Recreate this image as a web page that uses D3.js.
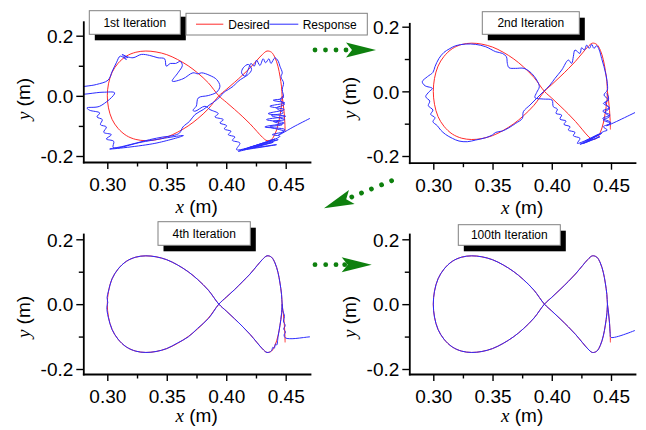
<!DOCTYPE html>
<html><head><meta charset="utf-8">
<script src="https://cdn.jsdelivr.net/npm/d3@7"></script>
<style>body{margin:0;background:#fff}svg{display:block}</style>
</head><body>
<svg id="c" width="646" height="430"></svg>
<script>
// ---------------- data ----------------
const xTicks = [0.30, 0.35, 0.40, 0.45];
const xTickLabels = ["0.30", "0.35", "0.40", "0.45"];
const xMinorTicks = [0.325, 0.375, 0.425];
const yTicks = [0.2, 0.0, -0.2];
const yTickLabels = ["0.2", "0.0", "-0.2"];
const yMinorTicks = [0.1, -0.1];
const panelTitles = ["1st Iteration", "2nd Iteration", "4th Iteration", "100th Iteration"];
const legendLabels = ["Desired", "Response"];

// desired figure-eight trajectory [x (m), y (m)]
const desiredPath = [
[0.4495,-0.118],[0.4493,-0.090],[0.4488,-0.060],[0.4480,-0.030],[0.4470,0.000],
[0.4465,0.030],[0.4452,0.065],[0.4435,0.098],[0.4410,0.127],[0.4380,0.145],[0.4343,0.149],
[0.4305,0.138],[0.4260,0.119],[0.4200,0.093],[0.4140,0.070],[0.4070,0.045],[0.4000,0.021],[0.3938,0.000],
[0.3850,-0.043],[0.3760,-0.076],[0.3680,-0.100],[0.3590,-0.121],[0.3500,-0.137],[0.3410,-0.146],[0.3324,-0.149],
[0.3240,-0.145],[0.3160,-0.132],[0.3090,-0.108],[0.3040,-0.078],[0.3010,-0.040],[0.3000,0.000],
[0.3010,0.040],[0.3040,0.078],[0.3090,0.108],[0.3160,0.132],[0.3240,0.145],[0.3324,0.149],
[0.3410,0.146],[0.3500,0.137],[0.3590,0.121],[0.3680,0.100],[0.3760,0.076],[0.3850,0.043],[0.3938,0.000],
[0.4000,-0.021],[0.4070,-0.045],[0.4140,-0.070],[0.4200,-0.093],[0.4260,-0.119],[0.4305,-0.138],[0.4343,-0.149],
[0.4380,-0.145],[0.4410,-0.127],[0.4435,-0.098],[0.4452,-0.065],[0.4465,-0.030],[0.4470,0.000]
];

// response, 1st iteration
const response1 = [
[0.4717,-0.0723],[0.4580,-0.1000],[0.4437,-0.1310],[0.4493,-0.1123],[0.4325,-0.1034],[0.4488,-0.0901],
[0.4339,-0.0790],[0.4499,-0.0679],[0.4353,-0.0590],[0.4488,-0.0457],[0.4367,-0.0346],[0.4493,-0.0234],
[0.4395,-0.0146],[0.4479,-0.0068],[0.4471,0.0210],[0.4482,0.0432],[0.4460,0.0632],[0.4471,0.0766],
[0.4451,0.0988],[0.4437,0.1154],[0.4409,0.1266],[0.4376,0.1077],[0.4359,0.1232],[0.4331,0.1099],
[0.4311,0.1232],[0.4283,0.1010],[0.4255,0.1188],[0.4236,0.0988],[0.4208,0.1077],[0.4185,0.0877],
[0.4157,0.0655],[0.4129,0.0766],[0.4143,0.0932],[0.4185,0.1044],[0.4213,0.0877],[0.4185,0.0710],
[0.4143,0.0599],[0.4101,0.0488],[0.4059,0.0321],[0.4017,0.0210],[0.3975,0.0099],[0.3947,-0.0034],
[0.3905,-0.0178],[0.3863,-0.0290],[0.3807,-0.0456],[0.3737,-0.0623],[0.3692,-0.0846],[0.3636,-0.1034],
[0.3608,-0.1234],[0.3552,-0.1323],[0.3468,-0.1368],[0.3356,-0.1457],[0.3244,-0.1568],[0.3132,-0.1679],
[0.3020,-0.1768],[0.3400,-0.1580],[0.3640,-0.1320],[0.3300,-0.1530],[0.3050,-0.1720],
[0.3054,-0.1512],[0.2992,-0.1434],[0.3034,-0.1290],[0.2970,-0.1212],[0.2992,-0.1034],[0.2942,-0.0957],
[0.2958,-0.0790],[0.2913,-0.0701],[0.2936,-0.0568],[0.2852,-0.0479],[0.2829,-0.0401],[0.2936,-0.0346],
[0.3062,0.0099],[0.2964,0.0121],[0.2740,0.0077],[0.2740,0.0232],[0.2908,0.0377],[0.3006,0.0521],
[0.3042,0.0821],[0.3076,0.1099],[0.3109,0.1321],[0.3160,0.1210],[0.3126,0.1377],[0.3174,0.1266],
[0.3146,0.1321],[0.3216,0.1266],[0.3286,0.1377],[0.3356,0.1344],[0.3426,0.1266],[0.3482,0.1232],
[0.3496,0.0988],[0.3530,0.1077],[0.3574,0.1077],[0.3614,0.1144],[0.3631,0.1010],[0.3594,0.0766],
[0.3546,0.0488],[0.3636,0.0566],[0.3720,0.0766],[0.3762,0.0732],[0.3793,0.0766],[0.3863,0.0677],
[0.3919,0.0544],[0.3947,0.0321],[0.3919,0.0121],[0.3849,0.0010],[0.3765,-0.0068],[0.3748,-0.0346],
[0.3720,-0.0479],[0.3737,-0.0512],[0.3821,-0.0346],[0.3863,-0.0456],[0.3933,-0.0590],[0.3905,-0.0701],
[0.3975,-0.0790],[0.3947,-0.0901],[0.4003,-0.0990],[0.3984,-0.1101],[0.4040,-0.1179],[0.4017,-0.1290],
[0.4073,-0.1368],[0.4051,-0.1479],[0.4115,-0.1568],[0.4087,-0.1790],[0.4409,-0.1434],[0.4101,-0.1846],
[0.4395,-0.1546],[0.4143,-0.1790],[0.4423,-0.1623],[0.4185,-0.1734],[0.4437,-0.1457],[0.4241,-0.1701],
[0.4451,-0.1345],[0.4387,-0.1290],[0.4488,-0.1179],[0.4367,-0.1034],[0.4471,-0.0957],[0.4395,-0.0846],
[0.4493,-0.0790],[0.4381,-0.0657],[0.4479,-0.0568],[0.4423,-0.0401],[0.4488,-0.0290],[0.4451,-0.0123],
[0.4479,-0.0012]
];

// response, 2nd iteration
const response2 = [
[0.4717,-0.0630],[0.4463,-0.1063],[0.4497,-0.0960],[0.4430,-0.0836],[0.4492,-0.0733],[0.4430,-0.0609],
[0.4486,-0.0506],[0.4436,-0.0372],[0.4478,-0.0269],[0.4441,-0.0114],[0.4469,0.0040],[0.4469,0.0247],
[0.4458,0.0504],[0.4441,0.0762],[0.4421,0.1020],[0.4401,0.1278],[0.4379,0.1412],[0.4356,0.1329],
[0.4337,0.1453],[0.4317,0.1329],[0.4295,0.1432],[0.4275,0.1278],[0.4252,0.1350],[0.4238,0.1174],
[0.4196,0.1278],[0.4182,0.1071],[0.4168,0.0865],[0.4140,0.0968],[0.4084,0.0659],[0.4027,0.0401],
[0.3985,0.0195],[0.3929,-0.0011],[0.3872,-0.0217],[0.3816,-0.0424],[0.3760,-0.0630],[0.3752,-0.0836],
[0.3695,-0.0991],[0.3639,-0.1125],[0.3583,-0.1228],[0.3527,-0.1269],[0.3498,-0.1351],[0.3442,-0.1434],
[0.3358,-0.1506],[0.3287,-0.1558],[0.3217,-0.1537],[0.3161,-0.1454],[0.3103,-0.1331],[0.3062,-0.1197],
[0.3034,-0.1063],[0.2997,-0.0939],[0.3014,-0.0815],[0.2978,-0.0712],[0.2997,-0.0578],[0.2958,-0.0444],
[0.2970,-0.0300],[0.2936,-0.0166],[0.2965,-0.0011],[0.2992,0.0092],[0.2930,0.0174],[0.2907,0.0298],
[0.2950,0.0453],[0.2997,0.0587],[0.3014,0.0762],[0.3048,0.1020],[0.3090,0.1205],[0.3133,0.1308],
[0.3189,0.1412],[0.3273,0.1463],[0.3358,0.1453],[0.3442,0.1381],[0.3527,0.1226],[0.3583,0.1174],
[0.3617,0.1071],[0.3625,0.0865],[0.3639,0.0731],[0.3695,0.0711],[0.3766,0.0711],[0.3830,0.0556],
[0.3873,0.0350],[0.3895,0.0143],[0.3873,-0.0032],[0.3858,-0.0197],[0.3929,-0.0238],[0.4002,-0.0269],
[0.4013,-0.0475],[0.4047,-0.0548],[0.4036,-0.0681],[0.4083,-0.0733],[0.4069,-0.0857],[0.4120,-0.0919],
[0.4103,-0.1022],[0.4154,-0.1094],[0.4140,-0.1197],[0.4196,-0.1269],[0.4182,-0.1372],[0.4238,-0.1454],
[0.4216,-0.1609],[0.4393,-0.1331],[0.4238,-0.1640],[0.4407,-0.1403],[0.4266,-0.1609],[0.4421,-0.1300],
[0.4295,-0.1558],[0.4435,-0.1248],[0.4469,-0.1197],[0.4435,-0.1094],[0.4497,-0.0991],[0.4435,-0.0888],
[0.4486,-0.0784],[0.4449,-0.0650],[0.4486,-0.0527],[0.4452,-0.0372],[0.4480,-0.0217],[0.4464,-0.0063]
];

// response, 4th iteration
const response4 = [
[0.4730,-0.0995],[0.4650,-0.1030],[0.4580,-0.1060],[0.4530,-0.1065],[0.4497,-0.1040],[0.4486,-0.0950],
[0.4498,-0.0860],[0.4483,-0.0760],[0.4496,-0.0660],[0.4481,-0.0520],[0.4490,-0.0380],[0.4476,-0.0200],
[0.4470,0.0000],[0.4465,0.030],[0.4452,0.065],[0.4435,0.098],[0.4410,0.127],[0.4380,0.145],[0.4343,0.149],
[0.4305,0.138],[0.4262,0.120],[0.4198,0.092],[0.4141,0.071],[0.4068,0.044],[0.4001,0.022],[0.3938,0.000],
[0.3851,-0.044],[0.3758,-0.075],[0.3681,-0.101],[0.3589,-0.120],[0.3500,-0.137],[0.3410,-0.146],[0.3324,-0.149],
[0.3240,-0.145],[0.3160,-0.132],[0.3090,-0.108],[0.3040,-0.078],[0.3008,-0.040],[0.2996,-0.010],[0.3004,0.005],
[0.2998,0.020],[0.3010,0.040],[0.3040,0.078],[0.3090,0.108],[0.3160,0.132],[0.3240,0.145],[0.3324,0.149],
[0.3410,0.146],[0.3500,0.137],[0.3590,0.121],[0.3680,0.100],[0.3760,0.076],[0.3850,0.043],[0.3938,0.000],
[0.4000,-0.021],[0.4070,-0.045],[0.4140,-0.070],[0.4200,-0.093],[0.4260,-0.119],[0.4305,-0.138],[0.4343,-0.149],
[0.4380,-0.144],[0.4392,-0.133],[0.4404,-0.136],[0.4414,-0.123],[0.4424,-0.126],[0.4436,-0.100],[0.4452,-0.065],
[0.4465,-0.030],[0.4470,0.000]
];

// response, 100th iteration: approach segment then tracks the desired path
const response100Approach = [[0.4730,-0.0770],[0.4500,-0.1025]];
const response100 = response100Approach.concat(desiredPath.slice(1));

// ---------------- drawing ----------------
const RED = "#ff2a2a", BLUE = "#2b2bff", GREEN = "#0e800e";
const SANS = "'Liberation Sans', Arial, Helvetica, sans-serif";
const SERIF = "'Liberation Serif', 'Times New Roman', serif";
const svg = d3.select("#c");

const panels = [
  {resp: response1,   x030:107.3, x045:285.7, x0:83.3,  x1:310, y02:35.7,  ym02:156, yTop:21.7,  yBot:162,   yTitleY:99,  xTitleOff:51, box:[89.3,10.7,91,23.6]},
  {resp: response2,   x030:433.3, x045:611,   x0:409.3, x1:635, y02:26.7,  ym02:156, yTop:23.3,  yBot:162.7, yTitleY:98,  xTitleOff:51, box:[482.3,11.7,97,22.6]},
  {resp: response4,   x030:107.3, x045:285.7, x0:83.3,  x1:310, y02:239.3, ym02:369, yTop:234,   yBot:374,   yTitleY:317, xTitleOff:48, box:[158,221.7,92.3,23.6]},
  {resp: response100, x030:433.3, x045:611,   x0:409.3, x1:635, y02:239.3, ym02:369, yTop:234,   yBot:374,   yTitleY:317, xTitleOff:48, box:[458.3,224.7,102,20.6]}
];

panels.forEach((p, i) => {
  const x = d3.scaleLinear().domain([0.30, 0.45]).range([p.x030, p.x045]);
  x.domain([x.invert(p.x0), x.invert(p.x1)]).range([p.x0, p.x1]);
  const y = d3.scaleLinear().domain([-0.2, 0.2]).range([p.ym02, p.y02]);
  y.domain([y.invert(p.yBot), y.invert(p.yTop)]).range([p.yBot, p.yTop]);

  const g = svg.append("g");
  const clipId = "clip" + i;
  svg.append("clipPath").attr("id", clipId).append("rect")
    .attr("x", p.x0).attr("y", p.yTop).attr("width", p.x1 - p.x0).attr("height", p.yBot - p.yTop);

  const line = d3.line().x(d => x(d[0])).y(d => y(d[1])).curve(d3.curveCatmullRom.alpha(0.5));
  const plot = g.append("g").attr("clip-path", `url(#${clipId})`);
  plot.append("path").attr("d", line(desiredPath)).attr("fill", "none").attr("stroke", RED).attr("stroke-width", 1);
  plot.append("path").attr("d", line(p.resp)).attr("fill", "none").attr("stroke", BLUE).attr("stroke-width", 1);

  // minor ticks
  g.append("g").attr("transform", `translate(0,${p.yBot})`)
    .call(d3.axisBottom(x).tickValues(xMinorTicks).tickSize(4.5).tickFormat(""))
    .call(a => a.select(".domain").remove());
  g.append("g").attr("transform", `translate(${p.x0},0)`)
    .call(d3.axisLeft(y).tickValues(yMinorTicks).tickSize(4.5).tickFormat(""))
    .call(a => a.select(".domain").remove());

  // major axes
  const xa = g.append("g").attr("transform", `translate(0,${p.yBot})`)
    .call(d3.axisBottom(x).tickValues(xTicks).tickFormat((d, j) => xTickLabels[j]).tickSize(7).tickSizeOuter(0));
  xa.selectAll("text").attr("y", 29).attr("dy", "0").attr("font-size", 19).attr("font-family", SANS).attr("fill", "#000");
  const ya = g.append("g").attr("transform", `translate(${p.x0},0)`)
    .call(d3.axisLeft(y).tickValues(yTicks).tickFormat((d, j) => yTickLabels[j]).tickSize(7).tickSizeOuter(0));
  ya.selectAll("text").attr("x", -10).attr("dy", "0.36em").attr("font-size", 19).attr("font-family", SANS).attr("fill", "#000");
  g.selectAll(".tick line").attr("stroke", "#000").attr("stroke-width", 1.4);
  g.selectAll(".domain").attr("stroke", "#000").attr("stroke-width", 1.8).attr("stroke-linecap", "square");

  // axis titles
  const xt = g.append("text").attr("x", (p.x0 + p.x1) / 2).attr("y", p.yBot + p.xTitleOff)
    .attr("text-anchor", "middle").attr("font-size", 19);
  xt.append("tspan").attr("font-family", SERIF).attr("font-style", "italic").text("x");
  xt.append("tspan").attr("font-family", SANS).text(" (m)");
  const yt = g.append("text").attr("transform", `translate(${p.x0 - 60},${p.yTitleY}) rotate(-90)`)
    .attr("text-anchor", "middle").attr("dy", "0.35em").attr("font-size", 19);
  yt.append("tspan").attr("font-family", SERIF).attr("font-style", "italic").text("y");
  yt.append("tspan").attr("font-family", SANS).text(" (m)");

  // title box with shadow
  const [bx, by, bw, bh] = p.box;
  g.append("rect").attr("x", bx + 5.5).attr("y", by + 6).attr("width", bw).attr("height", bh).attr("fill", "#000");
  g.append("rect").attr("x", bx).attr("y", by).attr("width", bw).attr("height", bh)
    .attr("fill", "#fff").attr("stroke", "#808080").attr("stroke-width", 1);
  g.append("text").attr("x", bx + bw / 2).attr("y", by + bh / 2).attr("dy", "0.35em")
    .attr("text-anchor", "middle").attr("font-size", 12).attr("font-family", SANS).text(panelTitles[i]);
});

// legend
const lg = svg.append("g");
lg.append("rect").attr("x", 186).attr("y", 13.3).attr("width", 181.3).attr("height", 21.7)
  .attr("fill", "#fff").attr("stroke", "#808080").attr("stroke-width", 1);
lg.append("line").attr("x1", 196).attr("x2", 223.3).attr("y1", 24.2).attr("y2", 24.2).attr("stroke", RED).attr("stroke-width", 1);
lg.append("text").attr("x", 228.3).attr("y", 24.2).attr("dy", "0.36em").attr("font-size", 12).attr("font-family", SANS).text(legendLabels[0]);
lg.append("line").attr("x1", 269.5).attr("x2", 298.3).attr("y1", 24.2).attr("y2", 24.2).attr("stroke", BLUE).attr("stroke-width", 1);
lg.append("text").attr("x", 302.7).attr("y", 24.2).attr("dy", "0.36em").attr("font-size", 12).attr("font-family", SANS).text(legendLabels[1]);

// green dotted arrows
function arrow(tx, ty, ang, dots) {
  const a = svg.append("g").attr("transform", `translate(${tx},${ty}) rotate(${ang})`);
  a.append("path").attr("d", "M0,0 L-30,-7.5 L-24,0 L-30,7.5 Z").attr("fill", GREEN);
  dots.forEach(d => a.append("circle").attr("cx", -d).attr("cy", 0).attr("r", 2.4).attr("fill", GREEN));
}
arrow(376, 50, 0, [61, 50.5, 40, 30]);
arrow(324, 208.3, 157.8, [73, 62.2, 51.2, 40.5, 30]);
arrow(371.7, 264.7, 0, [56.7, 46, 35.7, 27]);
</script>
</body></html>
